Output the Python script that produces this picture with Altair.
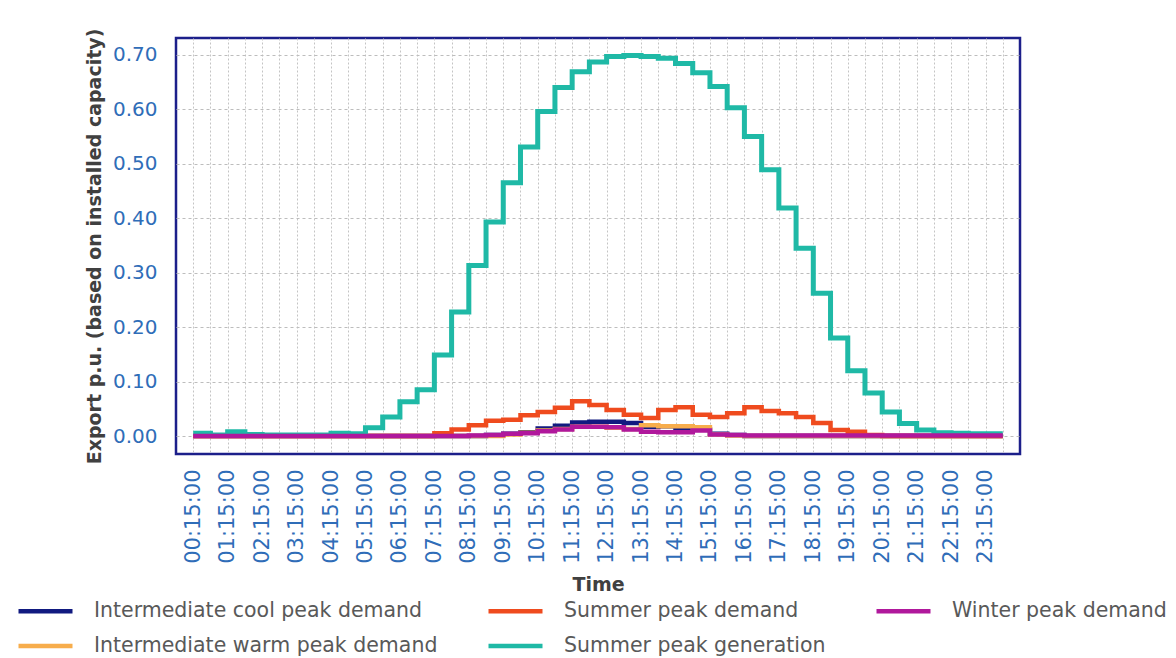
import altair as alt
import pandas as pd

# Half-hourly time categories (00:15 ... 23:45)
times = [f"{h:02d}:{m}:00" for h in range(24) for m in ("15", "45")]

series_names = [
    "Intermediate cool peak demand",
    "Intermediate warm peak demand",
    "Summer peak demand",
    "Summer peak generation",
    "Winter peak demand",
]
legend_order = [
    "Intermediate cool peak demand",
    "Summer peak demand",
    "Winter peak demand",
    "Intermediate warm peak demand",
    "Summer peak generation",
]
colors = {
    "Intermediate cool peak demand": "#111a80",
    "Intermediate warm peak demand": "#f7ad4c",
    "Summer peak demand": "#ef4b1e",
    "Summer peak generation": "#1fb9a6",
    "Winter peak demand": "#b0189c",
}

cool = [0.0] * 17 + [0.002, 0.004, 0.007, 0.014, 0.019, 0.025, 0.026, 0.026,
                     0.024, 0.017, 0.018, 0.015, 0.012, 0.004, 0.002] + [0.0] * 16
warm = [0.0] * 18 + [0.003, 0.006, 0.010, 0.013, 0.017, 0.017, 0.015, 0.013,
                     0.020, 0.018, 0.018, 0.016, 0.003, 0.001] + [0.0] * 16
summer_demand = [0.0] * 14 + [0.005, 0.012, 0.020, 0.028, 0.030, 0.038, 0.044, 0.052,
                              0.064, 0.057, 0.048, 0.039, 0.033, 0.048, 0.053, 0.039,
                              0.035, 0.042, 0.053, 0.046, 0.042, 0.035, 0.024, 0.011,
                              0.008, 0.002] + [0.0] * 8
summer_gen = [0.005, 0.002, 0.008, 0.003, 0.002, 0.002, 0.002, 0.002, 0.005, 0.004,
              0.015, 0.035, 0.063, 0.085, 0.149, 0.228, 0.313, 0.393, 0.465, 0.531,
              0.596, 0.640, 0.669, 0.687, 0.697, 0.699, 0.697, 0.694, 0.684, 0.667,
              0.642, 0.603, 0.550, 0.489, 0.419, 0.345, 0.262, 0.180, 0.120, 0.079,
              0.044, 0.023, 0.011, 0.006, 0.005, 0.004, 0.004, 0.004]
winter = [0.0] * 16 + [0.001, 0.002, 0.004, 0.005, 0.009, 0.012, 0.017, 0.017,
                       0.016, 0.012, 0.008, 0.007, 0.007, 0.010, 0.003, 0.002] + [0.001] * 16

y_ticks = [0.0, 0.1, 0.2, 0.3, 0.4, 0.5, 0.6, 0.7]

values = {
    "Intermediate cool peak demand": cool,
    "Intermediate warm peak demand": warm,
    "Summer peak demand": summer_demand,
    "Summer peak generation": summer_gen,
    "Winter peak demand": winter,
}

rows = []
for name in series_names:
    for t, v in zip(times, values[name]):
        rows.append({"time": t, "value": v, "series": name})
df = pd.DataFrame(rows)

FONT = "DejaVu Sans"
LABEL_BLUE = "#2f6db8"
TITLE_GREY = "#404040"

x_enc = alt.X(
    "time:O",
    sort=times,
    scale=alt.Scale(type="point", padding=2.25),
    axis=alt.Axis(
        title="Time",
        labelAngle=270,
        labelExpr="indexof(datum.label, ':45:') >= 0 ? '' : datum.label",
        labelFont=FONT,
        labelFontSize=21,
        labelColor=LABEL_BLUE,
        labelPadding=15,
        labelOverlap=False,
        ticks=False,
        domain=False,
        grid=True,
        gridColor="#c4c4c4",
        gridDash=[2, 2],
        gridWidth=1,
        titleFont=FONT,
        titleFontSize=19,
        titleFontWeight="bold",
        titleColor=TITLE_GREY,
        titlePadding=12,
    ),
)
y_enc = alt.Y(
    "value:Q",
    scale=alt.Scale(domain=[-0.033, 0.731], nice=False, zero=False),
    axis=alt.Axis(
        title="Export p.u. (based on installed capacity)",
        values=y_ticks,
        format=".2f",
        labelFont=FONT,
        labelFontSize=20,
        labelColor=LABEL_BLUE,
        labelPadding=19,
        ticks=False,
        domain=False,
        grid=True,
        gridColor="#bdbdbd",
        gridDash=[3, 3],
        gridWidth=1,
        titleFont=FONT,
        titleFontSize=19,
        titleFontWeight="bold",
        titleColor=TITLE_GREY,
        titlePadding=8,
    ),
)
color_enc = alt.Color(
    "series:N",
    scale=alt.Scale(domain=legend_order, range=[colors[n] for n in legend_order]),
    legend=alt.Legend(
        title=None,
        orient="none",
        legendX=-160,
        legendY=557,
        columns=3,
        direction="horizontal",
        symbolType="M-1,0H3",
        symbolSize=729,
        symbolStrokeWidth=4.5,
        labelFont=FONT,
        labelFontSize=20.5,
        labelColor="#595959",
        labelOffset=46,
        labelLimit=600,
        columnPadding=41,
        rowPadding=8,
        padding=0,
    ),
)

layers = []
for name in series_names:
    layers.append(
        alt.Chart(df)
        .transform_filter(alt.datum.series == name)
        .mark_line(interpolate="step-after", strokeWidth=5 if name == "Summer peak generation" else 4.5)
        .encode(x=x_enc, y=y_enc, color=color_enc)
    )

chart = (
    alt.layer(*layers)
    .properties(
        width=844,
        height=416,
        autosize=alt.AutoSizeParams(type="none"),
        padding={"left": 168, "top": 30, "right": 148, "bottom": 204},
        background="white",
    )
    .configure_view(stroke="#1c1f8a", strokeWidth=2.5)
)

chart.save("out.html", embed_options={"renderer": "svg", "actions": False})
